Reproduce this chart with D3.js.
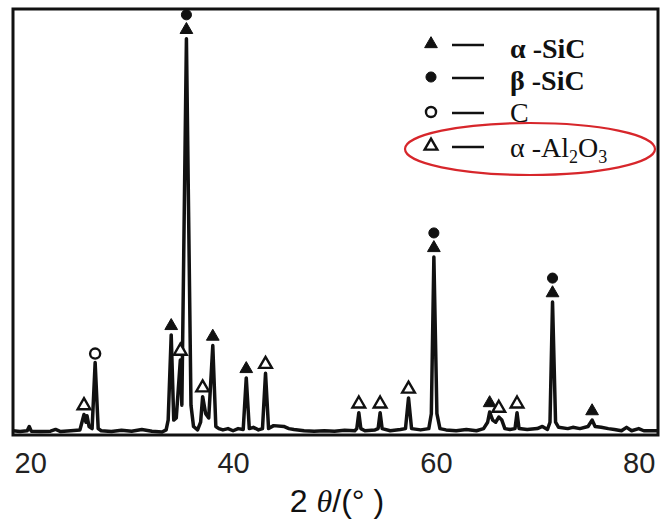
<!DOCTYPE html>
<html>
<head>
<meta charset="utf-8">
<script src="https://cdn.jsdelivr.net/npm/d3@7"></script>
<style>
  body { margin: 0; background: #fff; }
  svg { display: block; }
</style>
</head>
<body>
<div id="chart-area"></div>
<script>
const W = 660
const H = 523

// 2θ extent of the frame and intensity (arbitrary units)
const xExtent = [18.3, 81.9]
const yExtent = [0, 100]
const xTicks = [20, 40, 60, 80]

// diffraction profile: [2θ, intensity]
const profile = [
  [18.3, 1.0], [19.0, 0.8], [19.7, 1.0], [19.9, 2.0], [20.1, 0.9], [21, 0.8], [22, 0.9],
  [22.5, 1.3], [23, 0.8], [24, 1.0], [24.9, 1.2], [25.1, 3.0], [25.3, 4.8], [25.5, 3.0],
  [25.6, 4.5], [25.8, 2.0], [26.1, 1.5], [26.4, 17], [26.7, 1.5], [27, 1.0], [28, 0.8],
  [29, 1.1], [30, 0.9], [31, 1.3], [32, 0.9], [33, 0.7], [33.4, 1.2], [33.6, 3.5],
  [33.9, 23.5], [34.15, 3.5], [34.4, 4], [34.8, 17.6], [34.95, 7], [35.4, 93], [35.85, 7],
  [36.1, 2], [36.5, 1.2], [36.8, 3], [37.0, 9], [37.3, 5], [37.6, 4], [38.0, 21], [38.3, 2],
  [38.6, 1.5], [39, 1.2], [39.5, 1.5], [40, 1.0], [40.5, 1.5], [41.0, 1.3], [41.3, 13.4],
  [41.6, 1.5], [42, 1.8], [42.5, 1.2], [42.9, 1.5], [43.2, 14.5], [43.5, 1.5], [44, 2.2],
  [45, 2.0], [45.5, 1.5], [46, 1.3], [47, 1.0], [48, 0.9], [49, 1.0], [50, 0.9], [51, 1.1],
  [52, 1.0], [52.2, 1.5], [52.4, 5.2], [52.6, 1.5], [53, 1.0], [54, 1.2], [54.3, 1.5],
  [54.5, 5.2], [54.7, 1.5], [55.5, 1.0], [56.5, 1.3], [57.0, 1.5], [57.3, 8.7], [57.6, 1.5],
  [58.5, 1.2], [59.3, 1.5], [59.55, 5], [59.8, 41.8], [60.1, 5], [60.4, 1.5], [61, 1.2],
  [62, 1.0], [63, 1.3], [64, 1.0], [64.7, 1.5], [65.1, 3], [65.3, 5.4], [65.6, 3.5],
  [65.9, 3], [66.2, 4.2], [66.5, 3.5], [66.8, 1.5], [67.3, 1.3], [67.8, 1.5], [68.0, 5.2],
  [68.2, 1.5], [69, 1.3], [70, 1.5], [70.5, 2.0], [71, 1.3], [71.25, 3], [71.5, 31.2],
  [71.8, 3], [72.1, 1.8], [73, 1.5], [73.5, 1.8], [74.2, 1.5], [75.0, 2.0], [75.4, 3.5],
  [75.7, 2.0], [76.3, 1.8], [77, 1.5], [77.6, 1.3], [78.3, 1.0], [78.8, 1.8], [79.3, 1.0],
  [80, 1.5], [80.5, 1.0], [81.9, 1.0]
]

// peak positions (2θ) assigned to each phase
const alphaSiC = [33.9, 35.4, 38.0, 41.3, 59.8, 65.3, 71.5, 75.4]
const betaSiC = [35.4, 59.8, 71.5]
const carbon = [26.4]
const alumina = [25.3, 34.8, 37.0, 43.2, 52.4, 54.5, 57.3, 66.2, 68.0]

const phases = [
  { key: "a", label: "α -SiC", peaks: alphaSiC },
  { key: "b", label: "β -SiC", peaks: betaSiC },
  { key: "c", label: "C", peaks: carbon },
  { key: "al", label: "α -Al2O3", peaks: alumina }
]

const svg = d3.select("#chart-area").append("svg")
  .attr("width", W)
  .attr("height", H)

// scales
const x = d3.scaleLinear().domain(xExtent).range([13, 658])
const y = d3.scaleLinear().domain(yExtent).range([435, 9])

// frame
svg.append("rect")
  .attr("x", x(xExtent[0]))
  .attr("y", y(yExtent[1]))
  .attr("width", x(xExtent[1]) - x(xExtent[0]))
  .attr("height", y(yExtent[0]) - y(yExtent[1]))
  .attr("fill", "none")
  .attr("stroke", "#111")
  .attr("stroke-width", 3)

// x axis labels only
const xAxis = svg.append("g")
  .attr("transform", `translate(0, ${y(0)})`)
  .call(d3.axisBottom(x).tickValues(xTicks).tickSize(0).tickPadding(17).tickFormat(d3.format("d")))
xAxis.select(".domain").remove()
xAxis.selectAll("text")
  .attr("font-family", "Liberation Sans, Arial, sans-serif")
  .attr("font-size", 29)
  .attr("fill", "#222")

// axis title
const title = svg.append("text")
  .attr("x", 337)
  .attr("y", 512)
  .attr("text-anchor", "middle")
  .attr("font-family", "Liberation Sans, Arial, sans-serif")
  .attr("font-size", 32)
  .attr("fill", "#111")
title.append("tspan").text("2 ")
title.append("tspan").attr("font-style", "italic").attr("font-family", "Liberation Serif, serif").text("θ")
title.append("tspan").text("/(° )")

// pattern line
const line = d3.line()
  .x(d => x(d[0]))
  .y(d => y(d[1]))

svg.append("path")
  .attr("fill", "none")
  .attr("stroke", "#111")
  .attr("stroke-width", 3.5)
  .attr("stroke-linejoin", "round")
  .attr("d", line(profile))

// marker shapes
const tri = d3.symbol().type(d3.symbolTriangle).size(70)
const circ = d3.symbol().type(d3.symbolCircle).size(80)

function drawMarker(sel, key, cx, cy) {
  const filled = key === "a" || key === "b"
  const shape = (key === "a" || key === "al") ? tri : circ
  sel.append("path")
    .attr("d", shape())
    .attr("transform", `translate(${cx}, ${cy})`)
    .attr("fill", filled ? "#111" : "#fff")
    .attr("stroke", "#111")
    .attr("stroke-width", filled ? 1 : 2.4)
}

// top of a peak from the profile
function peakTop(t) {
  const p = profile.reduce((a, b) => Math.abs(b[0] - t) < Math.abs(a[0] - t) ? b : a)
  return p[1]
}

// stack markers above each peak, triangle lowest
const stack = new Map()
const order = ["al", "c", "a", "b"]
order.forEach(k => {
  const ph = phases.find(p => p.key === k)
  ph.peaks.forEach(t => {
    const n = stack.get(t) || 0
    stack.set(t, n + 1)
    drawMarker(svg, k, x(t), y(peakTop(t)) - 9 - n * 15)
  })
})

// legend
const legend = svg.append("g")
const legendRows = [44, 77, 112, 146]
const legendBase = [58, 90, 122, 157]
phases.forEach((p, i) => {
  const ry = legendRows[i]
  drawMarker(legend, p.key, 431, ry)
  legend.append("line")
    .attr("x1", 452).attr("x2", 484)
    .attr("y1", ry + 1).attr("y2", ry + 1)
    .attr("stroke", "#111")
    .attr("stroke-width", 2.5)
  const t = legend.append("text")
    .attr("x", 510)
    .attr("y", legendBase[i])
    .attr("font-family", "Liberation Serif, Times New Roman, serif")
    .attr("font-size", 28)
    .attr("font-weight", i < 2 ? "bold" : "normal")
    .attr("fill", "#111")
  if (p.key === "al") {
    t.append("tspan").text("α -Al")
    t.append("tspan").attr("font-size", 18).attr("dy", 6).text("2")
    t.append("tspan").attr("dy", -6).text("O")
    t.append("tspan").attr("font-size", 18).attr("dy", 6).text("3")
  } else {
    t.text(p.label)
  }
})

// red highlight round the alumina entry
svg.append("ellipse")
  .attr("cx", 530)
  .attr("cy", 149)
  .attr("rx", 125)
  .attr("ry", 26)
  .attr("fill", "none")
  .attr("stroke", "#d7262b")
  .attr("stroke-width", 2.2)
</script>
</body>
</html>
